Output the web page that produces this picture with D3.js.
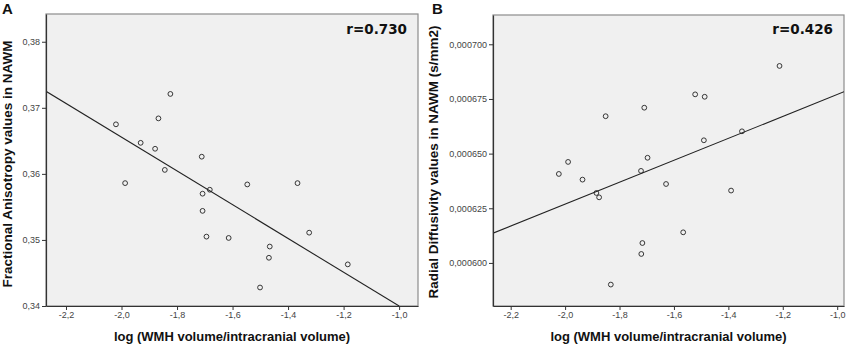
<!DOCTYPE html>
<html lang="en">
<head>
<meta charset="UTF-8">
<title>FA and RD vs WMH volume</title>
<script src="https://d3js.org/d3.v7.min.js"></script>
<style>
    body { margin: 0; background: #fff; }
    svg { font-family: "Liberation Sans", Arial, sans-serif; }
    .tick text { font-size: 9px; fill: #444; }
    .axis-label { font-size: 13px; font-weight: bold; fill: #111; }
    .y-label { font-size: 13.5px; }
    .panel-letter { font-size: 15px; font-weight: bold; fill: #111; }
    .rval { font-family: "DejaVu Sans", sans-serif; font-size: 13.5px; font-weight: bold; fill: #111; }
</style>
</head>
<body>
<div id="chart"></div>
<script>
// panel A: fractional anisotropy
const faX = [-2.020, -1.824, -1.867, -1.931, -1.879, -1.711, -1.844, -1.987, -1.708, -1.682,
             -1.547, -1.366, -1.708, -1.694, -1.614, -1.324, -1.466, -1.469, -1.185, -1.501];
const faY = [0.3675, 0.3721, 0.3684, 0.3647, 0.3638, 0.3626, 0.3606, 0.3586, 0.3570, 0.3576,
             0.3584, 0.3586, 0.3544, 0.3505, 0.3503, 0.3511, 0.3490, 0.3473, 0.3463, 0.3428];
const faFit = [[-2.272, 0.3725], [-1.0, 0.34]];
const faTicksY = [0.34, 0.35, 0.36, 0.37, 0.38];

// panel B: radial diffusivity
const rdX = [-1.212, -1.522, -1.487, -1.709, -1.851, -1.350, -1.490, -1.697, -1.989, -1.721,
             -2.023, -1.936, -1.885, -1.875, -1.629, -1.390, -1.566, -1.716, -1.720, -1.832];
const rdY = [0.0006901, 0.0006771, 0.0006760, 0.0006710, 0.0006671, 0.0006602, 0.0006561, 0.0006481, 0.0006462, 0.0006421,
             0.0006407, 0.0006381, 0.0006320, 0.0006300, 0.0006361, 0.0006331, 0.0006140, 0.0006091, 0.0006041, 0.0005901];
const rdFit = [[-2.265, 0.0006136], [-0.975, 0.0006783]];
const rdTicksY = [0.000600, 0.000625, 0.000650, 0.000675, 0.000700];

const xTicks = [-2.2, -2.0, -1.8, -1.6, -1.4, -1.2, -1.0];

const svg = d3.select("#chart").append("svg")
    .attr("width", 851)
    .attr("height", 349);

const comma = (f) => (d) => d3.format(f)(d).replace(".", ",").replace("−", "-");

function panel(cfg) {
    const g = svg.append("g");
    const x = d3.scaleLinear().domain(cfg.xDomain).range([cfg.left, cfg.right]);
    const y = d3.scaleLinear().domain(cfg.yDomain).range([cfg.bottom, cfg.top]);

    g.append("rect")
        .attr("x", cfg.left).attr("y", cfg.top)
        .attr("width", cfg.right - cfg.left).attr("height", cfg.bottom - cfg.top)
        .attr("fill", "#f0f0f0")
        .attr("stroke", "#8c8c8c")
        .attr("stroke-width", 1.2);

    const clipId = "clip" + cfg.letter;
    svg.append("clipPath").attr("id", clipId).append("rect")
        .attr("x", cfg.left).attr("y", cfg.top)
        .attr("width", cfg.right - cfg.left).attr("height", cfg.bottom - cfg.top);

    // fit line
    g.append("line")
        .attr("clip-path", `url(#${clipId})`)
        .attr("x1", x(cfg.fit[0][0])).attr("y1", y(cfg.fit[0][1]))
        .attr("x2", x(cfg.fit[1][0])).attr("y2", y(cfg.fit[1][1]))
        .attr("stroke", "#222")
        .attr("stroke-width", 1.1);

    // points
    g.selectAll("circle.pt")
        .data(cfg.xs.map((v, i) => [v, cfg.ys[i]]))
        .enter().append("circle")
        .attr("class", "pt")
        .attr("cx", d => x(d[0]))
        .attr("cy", d => y(d[1]))
        .attr("r", 2.4)
        .attr("fill", "none")
        .attr("stroke", "#222")
        .attr("stroke-width", 0.9);

    // axes
    const xAxis = g.append("g")
        .attr("transform", `translate(0,${cfg.bottom})`)
        .call(d3.axisBottom(x).tickValues(xTicks).tickFormat(comma(".1f")).tickSize(4).tickSizeOuter(0));
    const yAxis = g.append("g")
        .attr("transform", `translate(${cfg.left},0)`)
        .call(d3.axisLeft(y).tickValues(cfg.yTicks).tickFormat(comma(cfg.yFmt)).tickSize(4).tickSizeOuter(0));
    [xAxis, yAxis].forEach(a => {
        a.select(".domain").attr("stroke", "#333").attr("stroke-width", 1.2);
        a.selectAll(".tick line").attr("stroke", "#333");
    });
    xAxis.selectAll(".tick text").attr("dy", "0.6em");
    yAxis.selectAll(".tick text").attr("dx", "0.1em");

    g.append("text")
        .attr("class", "axis-label")
        .attr("x", (cfg.left + cfg.right) / 2)
        .attr("y", 341)
        .attr("text-anchor", "middle")
        .text("log (WMH volume/intracranial volume)");

    g.append("text")
        .attr("class", "axis-label y-label")
        .attr("transform", "rotate(-90)")
        .attr("x", -cfg.yLabelMid)
        .attr("y", cfg.yLabelX)
        .attr("text-anchor", "middle")
        .text(cfg.yLabel);

    g.append("text")
        .attr("class", "panel-letter")
        .attr("x", cfg.letterX)
        .attr("y", 14)
        .text(cfg.letter);

    g.append("text")
        .attr("class", "rval")
        .attr("x", cfg.right - 11)
        .attr("y", 34)
        .attr("text-anchor", "end")
        .text(cfg.r);
}

panel({
    letter: "A", letterX: 2,
    left: 46, right: 418, top: 14, bottom: 306,
    xDomain: [-2.272, -0.932],
    yDomain: [0.34, 0.3842],
    xs: faX, ys: faY, fit: faFit,
    yTicks: faTicksY, yFmt: ".2f",
    yLabel: "Fractional Anisotropy values in NAWM", yLabelX: 12, yLabelMid: 164,
    r: "r=0.730"
});

panel({
    letter: "B", letterX: 432,
    left: 493, right: 844, top: 15, bottom: 306,
    xDomain: [-2.265, -0.975],
    yDomain: [0.0005803, 0.0007134],
    xs: rdX, ys: rdY, fit: rdFit,
    yTicks: rdTicksY, yFmt: ".6f",
    yLabel: "Radial Diffusivity values in NAWM (s/mm2)", yLabelX: 438, yLabelMid: 162,
    r: "r=0.426"
});
</script>
</body>
</html>
